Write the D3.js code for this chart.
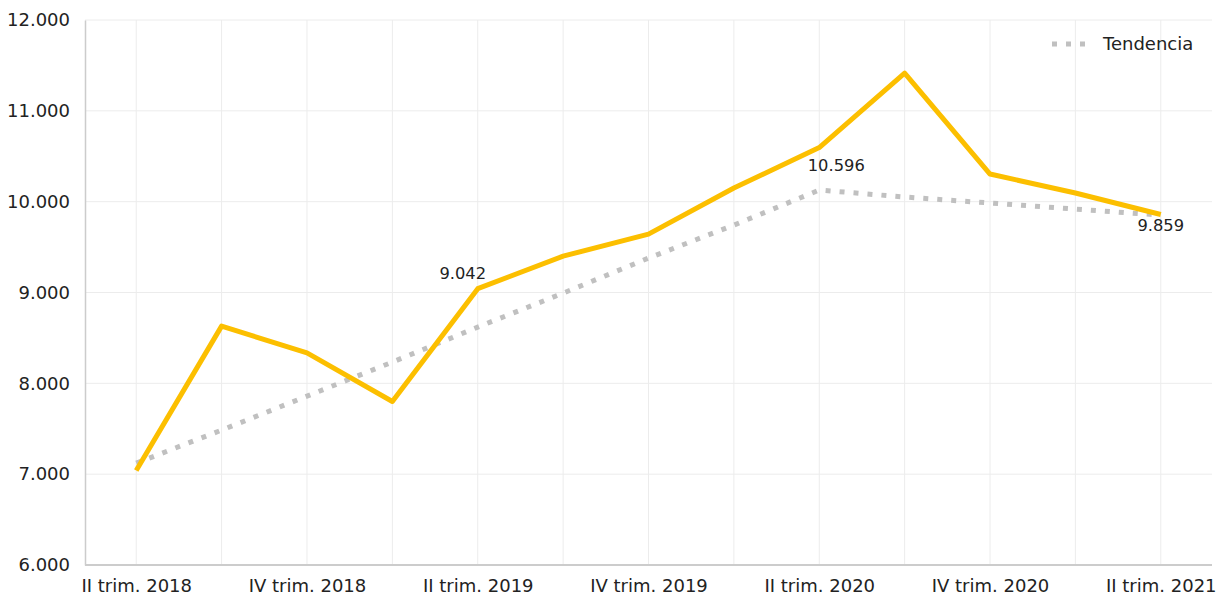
<!DOCTYPE html>
<html><head><meta charset="utf-8">
<script src="https://cdn.jsdelivr.net/npm/d3@7"></script>
<style>
body{margin:0;background:#fff;}
svg{display:block;font-family:"DejaVu Sans",sans-serif;}
</style></head>
<body><svg id="c" width="1217" height="597"></svg>
<script>
const categories = ["II trim. 2018","III trim. 2018","IV trim. 2018","I trim. 2019","II trim. 2019","III trim. 2019","IV trim. 2019","I trim. 2020","II trim. 2020","III trim. 2020","IV trim. 2020","I trim. 2021","II trim. 2021"];
const values = [7040, 8630, 8335, 7800, 9042, 9400, 9643, 10150, 10596, 11416, 10304, 10095, 9859];
const trend = [7121, 7485, 7859, 8234, 8619, 8993, 9379, 9742, 10128, 10051, 9985, 9918, 9852];
const yTicks = [6000, 7000, 8000, 9000, 10000, 11000, 12000];
const xTickLabels = ["II trim. 2018","IV trim. 2018","II trim. 2019","IV trim. 2019","II trim. 2020","IV trim. 2020","II trim. 2021"];
const labelled = [{i:4, text:"9.042", dx:-15, dy:-10}, {i:8, text:"10.596", dx:17, dy:23}, {i:12, text:"9.859", dx:0, dy:17}];

const svg = d3.select("#c");
const L=85, R=1212, T=20, B=565;
const x = d3.scalePoint().domain(categories).range([L,R]).padding(0.6);
const y = d3.scaleLinear().domain([6000,12000]).range([B,T]);
const fmt = v => d3.format(",")(v).replace(/,/g,".");

// grid
svg.append("g").selectAll("line").data(yTicks).join("line")
  .attr("x1",L).attr("x2",R).attr("y1",d=>y(d)).attr("y2",d=>y(d))
  .attr("stroke","#ececec").attr("stroke-width",1);
svg.append("g").selectAll("line").data(categories).join("line")
  .attr("x1",d=>x(d)).attr("x2",d=>x(d)).attr("y1",T).attr("y2",B)
  .attr("stroke","#ececec").attr("stroke-width",1);

// axes
const yAxis = svg.append("g").attr("transform",`translate(${L},0)`)
  .call(d3.axisLeft(y).tickValues(yTicks).tickFormat(fmt).tickSize(0).tickPadding(15));
yAxis.select(".domain").attr("stroke","#cccccc").attr("stroke-width",1.5);
yAxis.selectAll("text").attr("font-size",18).attr("fill","#222").attr("font-family","DejaVu Sans");

const xAxis = svg.append("g").attr("transform",`translate(0,${B})`)
  .call(d3.axisBottom(x).tickValues(xTickLabels).tickSize(0).tickPadding(14));
xAxis.select(".domain").attr("stroke","#cccccc").attr("stroke-width",2).attr("d",`M${L},0H${R}`);
xAxis.selectAll("text").attr("font-size",18).attr("fill","#222").attr("font-family","DejaVu Sans");

// lines
const line = d3.line().x((d,i)=>x(categories[i])).y(d=>y(d));
svg.append("path").datum(trend).attr("d",line).attr("fill","none")
  .attr("stroke","#c0c0c0").attr("stroke-width",5).attr("stroke-dasharray","5,9");
svg.append("path").datum(values).attr("d",line).attr("fill","none")
  .attr("stroke","#fcbf00").attr("stroke-width",5).attr("stroke-linejoin","round");

// labels
svg.append("g").selectAll("text").data(labelled).join("text")
  .attr("x",d=>x(categories[d.i])+d.dx).attr("y",d=>y(values[d.i])+d.dy)
  .attr("text-anchor","middle").attr("font-size",16.3).attr("fill","#222").text(d=>d.text);

// legend
svg.append("line").attr("x1",1052).attr("x2",1086).attr("y1",44).attr("y2",44)
  .attr("stroke","#c0c0c0").attr("stroke-width",5).attr("stroke-dasharray","5,9");
svg.append("text").attr("x",1103).attr("y",44).attr("dy","0.35em")
  .attr("font-size",18).attr("fill","#222").text("Tendencia");
</script></body></html>
